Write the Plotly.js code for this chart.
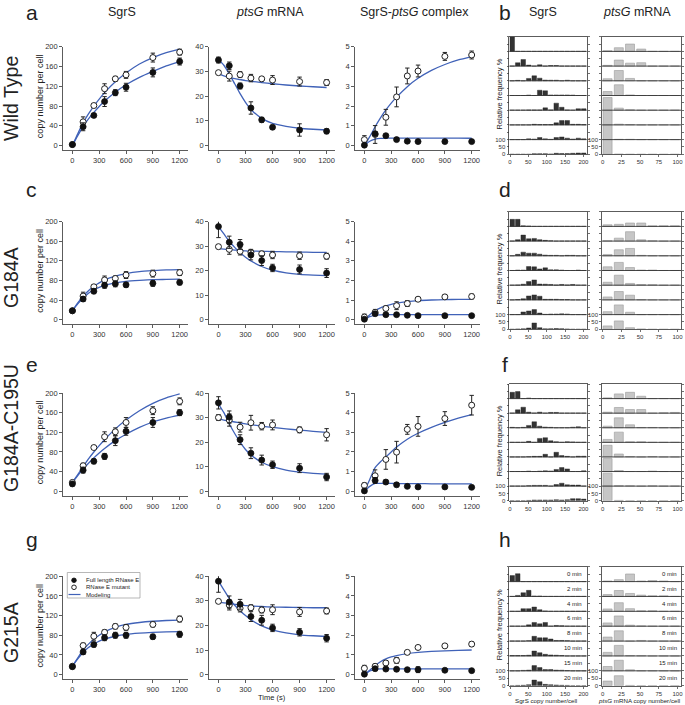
<!DOCTYPE html>
<html><head><meta charset="utf-8">
<script src="https://cdn.plot.ly/plotly-3.0.1.min.js"></script>
<style>body{margin:0;background:#fff}#chart{width:685px;height:705px}</style>
</head><body><div id="chart"></div>
<script>
const W = 685, H = 705;
const times = [0,120,240,360,480,600,900,1200];
const modelTimes = [0,60,120,180,240,300,360,480,600,750,900,1050,1200];
const xTicks = [0,300,600,900,1200];
const strains = ['Wild Type','G184A','G184A-C195U','G215A'];
const leftLetters = ['a','c','e','g'];
const rightLetters = ['b','d','f','h'];
const colTitles = ['SgrS','<i>ptsG</i> mRNA','SgrS-<i>ptsG</i> complex','SgrS','<i>ptsG</i> mRNA'];
const legendNames = ['Full length RNase E','RNase E mutant','Modeling'];
const histTimeLabels = ['0 min','2 min','4 min','6 min','8 min','10 min','15 min','20 min'];
const sgrsBins = [6,21,36,51,66,81,96,111,126,141,156,171,186,201];
const ptsgBins = [6.5,21.5,36.5,51.5,66.5,81.5,96.5];
const sgrsHistTicks = [0,50,100,150,200];
const ptsgHistTicks = [0,25,50,75,100];

// ---- Wild type ----
const WT_SgrS_full = [2,38,61,89,107,118,148,170];
const WT_SgrS_fullErr = [2,8,4,10,6,8,9,7];
const WT_SgrS_mut = [2,48,81,115,135,143,178,189];
const WT_SgrS_mutErr = [2,10,4,10,5,7,9,6];
const WT_SgrS_modelFull = [0,20,39,54,67,79,90,108,123,138,150,161,170];
const WT_SgrS_modelMut = [0,24,46,64,80,94,107,129,147,165,178,188,195];
const WT_ptsG_full = [34.6,32.3,24.1,15.2,10.4,7.4,6.3,5.8];
const WT_ptsG_fullErr = [1.2,1.5,1.2,2.5,1.0,0.8,2.5,1.0];
const WT_ptsG_mut = [29.5,28.1,28.7,27.3,27,26.5,25.9,25.5];
const WT_ptsG_mutErr = [0.8,2.0,1.2,1.5,0.8,1.8,1.8,1.2];
const WT_ptsG_modelFull = [34.8,32.5,29,25,21,17.5,14.6,11,9,7.8,7,6.6,6.3];
const WT_ptsG_modelMut = [29,28.2,27.6,27.1,26.7,26.3,26,25.5,25,24.5,24.1,23.8,23.5];
const WT_cplx_full = [0.02,0.6,0.5,0.3,0.22,0.2,0.2,0.2];
const WT_cplx_fullErr = [0.05,0.1,0.08,0.08,0.08,0.05,0.05,0.05];
const WT_cplx_mut = [0.3,0.56,1.43,2.46,3.52,3.77,4.51,4.58];
const WT_cplx_mutErr = [0.2,0.45,0.4,0.5,0.4,0.3,0.2,0.2];
const WT_cplx_modelFull = [0,0.22,0.32,0.36,0.37,0.38,0.38,0.38,0.38,0.38,0.38,0.38,0.37];
const WT_cplx_modelMut = [0,0.45,0.95,1.4,1.8,2.15,2.45,2.98,3.4,3.8,4.1,4.33,4.5];

// ---- G184A ----
const G184A_SgrS_full = [18,42,58,70,73,71,74,76];
const G184A_SgrS_fullErr = [3,5,5,6,6,5,6,5];
const G184A_SgrS_mut = [18,48,67,81,84,91,94,96];
const G184A_SgrS_mutErr = [3,8,4,8,5,7,7,6];
const G184A_SgrS_modelFull = [18,32,44,54,61,66,70,75,78,80,81.5,82,82.5];
const G184A_SgrS_modelMut = [18,34,48,59,68,75,81,89,94,98,100,101.5,102];
const G184A_ptsG_full = [38,31.6,30.7,26.4,24.1,21.1,20.5,19];
const G184A_ptsG_fullErr = [4.5,2.5,2,2,2,1.5,1.8,1.8];
const G184A_ptsG_mut = [29.8,28.7,27.9,27.5,26.9,26.4,26.1,25.9];
const G184A_ptsG_mutErr = [0.8,2,1.5,1.2,1,1.5,1.5,1.2];
const G184A_ptsG_modelFull = [38,35,32,29.5,27.3,25.5,24,21.7,20.2,19.1,18.5,18.2,18];
const G184A_ptsG_modelMut = [29,28.8,28.6,28.4,28.3,28.1,28,27.9,27.8,27.7,27.6,27.5,27.5];
const G184A_cplx_full = [0.02,0.3,0.25,0.25,0.22,0.2,0.2,0.2];
const G184A_cplx_fullErr = [0.05,0.1,0.08,0.08,0.07,0.07,0.05,0.05];
const G184A_cplx_mut = [0.13,0.37,0.57,0.71,0.82,1.04,1.16,1.18];
const G184A_cplx_mutErr = [0.15,0.15,0.12,0.2,0.15,0.1,0.1,0.12];
const G184A_cplx_modelFull = [0,0.15,0.22,0.24,0.25,0.25,0.25,0.25,0.25,0.25,0.25,0.25,0.25];
const G184A_cplx_modelMut = [0,0.25,0.45,0.6,0.7,0.78,0.84,0.92,0.97,1.0,1.02,1.03,1.03];

// ---- G184A-C195U ----
const G184AC195U_SgrS_full = [15,43,61,71,103,122,140,160];
const G184AC195U_SgrS_fullErr = [4,6,5,6,10,8,10,6];
const G184AC195U_SgrS_mut = [18,52,89,111,121,140,164,183];
const G184AC195U_SgrS_mutErr = [3,5,4,10,8,10,8,7];
const G184AC195U_SgrS_modelFull = [18,32,45,57,68,78,87,103,116,130,141,149,155];
const G184AC195U_SgrS_modelMut = [18,34,50,66,80,93,105,127,145,164,179,190,198];
const G184AC195U_ptsG_full = [36,30.2,21,15.5,12.7,10.8,9.4,5.8];
const G184AC195U_ptsG_fullErr = [2.5,2.5,2,2.2,2,1.5,1.8,1.5];
const G184AC195U_ptsG_mut = [30,29,26.1,27.9,26.5,27,25,23];
const G184AC195U_ptsG_mutErr = [1.2,2.5,2,3,1.5,2,1.2,2.5];
const G184AC195U_ptsG_modelFull = [35.5,32,27.5,23.5,20,17,14.8,11.8,10,8.6,7.8,7.3,7];
const G184AC195U_ptsG_modelMut = [29.5,29,28.6,28.2,27.8,27.4,27.1,26.5,26,25.4,24.9,24.4,24];
const G184AC195U_cplx_full = [0.02,0.55,0.47,0.33,0.25,0.22,0.22,0.2];
const G184AC195U_cplx_fullErr = [0.05,0.15,0.1,0.1,0.05,0.05,0.05,0.05];
const G184AC195U_cplx_mut = [0.3,0.79,1.62,1.99,3.15,3.3,3.7,4.38];
const G184AC195U_cplx_mutErr = [0.12,0.3,0.5,0.55,0.25,0.5,0.35,0.5];
const G184AC195U_cplx_modelFull = [0,0.25,0.4,0.4,0.4,0.4,0.39,0.39,0.39,0.38,0.38,0.38,0.38];
const G184AC195U_cplx_modelMut = [0,0.6,1.2,1.5,1.75,2.0,2.25,2.65,2.95,3.25,3.5,3.72,3.9];

// ---- G215A ----
const G215A_SgrS_full = [16,46,61,75,80,80,77,82];
const G215A_SgrS_fullErr = [4,5,5,6,6,6,5,6];
const G215A_SgrS_mut = [17,59,78,86,98,96,102,113];
const G215A_SgrS_mutErr = [3,5,8,5,5,6,5,6];
const G215A_SgrS_modelFull = [17,32,45,55,62,68,72,78,82,84.5,86,87,87.5];
const G215A_SgrS_modelMut = [17,34,50,62,72,80,87,96,102,106,108.5,110,111];
const G215A_ptsG_full = [38,29.5,28.6,23.6,22.1,19,17.2,14.8];
const G215A_ptsG_fullErr = [4.5,2.5,2,2,2,1.5,1.5,1.5];
const G215A_ptsG_mut = [29.8,28.3,27,27.2,26.3,26.4,25.5,25.9];
const G215A_ptsG_mutErr = [0.8,2,1.5,1.2,1.2,2,1.8,1.2];
const G215A_ptsG_modelFull = [38,34.5,31,28.2,26,24,22.3,19.8,18.2,17,16.2,15.8,15.5];
const G215A_ptsG_modelMut = [29.5,29.2,28.9,28.6,28.3,28.1,27.9,27.7,27.5,27.4,27.3,27.2,27.2];
const G215A_cplx_full = [0.02,0.3,0.28,0.27,0.25,0.25,0.22,0.2];
const G215A_cplx_fullErr = [0.05,0.1,0.08,0.1,0.05,0.15,0.05,0.05];
const G215A_cplx_mut = [0.32,0.42,0.59,0.72,1.13,1.38,1.46,1.55];
const G215A_cplx_mutErr = [0.15,0.12,0.1,0.15,0.1,0.1,0.08,0.12];
const G215A_cplx_modelFull = [0,0.18,0.27,0.29,0.29,0.29,0.29,0.29,0.29,0.29,0.29,0.29,0.29];
const G215A_cplx_modelMut = [0,0.22,0.45,0.65,0.8,0.9,0.97,1.07,1.13,1.18,1.21,1.23,1.25];

// ---- Histograms (relative frequency %, rows = time points) ----
const WT_SgrS_hist = [
 [100,0,0,0,0,0,0,0,0,0,0,0,0,0],
 [0,23,45,7,0,9,0,4,4,0,0,0,0,0],
 [0,3,0,16,34,18,5,4,4,0,4,0,0,0],
 [0,0,0,3,0,36,32,4,4,4,4,3,0,0],
 [0,0,0,2,2,2,16,2,48,20,2,0,10,10],
 [0,0,0,0,4,2,2,2,14,30,30,4,4,2],
 [0,0,0,5,4,14,5,2,14,18,10,4,10,5],
 [0,0,0,0,4,4,4,2,7,5,5,7,9,9]];
const WT_ptsG_hist = [
 [5,25,50,16,0,0,0],
 [5,41,20,23,0,0,0],
 [14,70,16,0,0,0,0],
 [27,73,4,0,0,0,0],
 [86,14,3,0,0,0,0],
 [98,5,2,0,0,0,0],
 [100,2,2,0,0,0,0],
 [100,1,0,0,0,0,0]];
const G184A_SgrS_hist = [
 [48,48,4,3,0,0,0,0,0,0,0,0,0,0],
 [0,10,41,16,18,10,5,2,0,0,0,0,0,0],
 [0,10,25,18,18,11,5,3,3,0,3,3,0,0],
 [0,3,3,27,25,11,18,5,5,3,0,0,3,0],
 [0,2,7,25,36,8,7,5,2,5,2,5,0,0],
 [0,2,8,27,34,25,4,4,4,2,2,0,0,0],
 [0,0,18,25,34,11,2,4,4,5,4,0,0,0],
 [0,2,3,9,43,11,3,4,5,4,2,0,0,0]];
const G184A_ptsG_hist = [
 [11,14,23,23,4,5,5],
 [2,20,64,9,2,0,0],
 [9,41,50,3,0,0,0],
 [25,55,20,3,3,0,0],
 [20,68,12,4,3,0,0],
 [20,57,32,2,0,0,0],
 [20,66,16,0,0,0,0],
 [23,57,11,2,0,0,0]];
const G184AC195U_SgrS_hist = [
 [43,48,0,4,0,0,0,0,0,0,0,0,0,0],
 [0,23,41,7,0,7,0,5,5,0,0,0,0,0],
 [3,0,3,16,41,11,5,3,0,0,0,4,7,0],
 [0,0,0,7,0,27,32,11,4,0,4,3,0,0],
 [0,0,0,2,4,4,18,0,32,9,4,0,5,5],
 [0,0,0,3,0,3,5,4,14,27,18,0,0,5],
 [0,0,0,3,5,5,5,0,11,20,9,7,7,0],
 [0,0,0,2,5,5,5,5,7,5,7,14,14,11]];
const G184AC195U_ptsG_hist = [
 [5,32,43,16,0,0,0],
 [7,39,25,25,0,3,5],
 [11,68,20,2,2,0,0],
 [20,70,4,4,0,0,0],
 [80,20,3,0,3,0,0],
 [89,7,0,0,3,0,0],
 [89,3,2,0,2,0,0],
 [100,2,0,0,0,0,0]];
const G215A_SgrS_hist = [
 [40,53,0,0,0,0,0,0,0,0,0,0,0,0],
 [0,7,25,41,3,3,0,0,0,0,0,0,0,0],
 [0,0,18,18,29,11,3,0,0,0,0,0,0,0],
 [0,0,0,9,25,16,25,0,5,3,0,0,0,0],
 [0,0,0,3,32,22,22,14,4,4,3,0,0,0],
 [3,3,3,5,33,22,11,7,5,3,0,0,0,0],
 [0,0,3,5,35,22,9,9,5,4,2,0,0,0],
 [0,2,3,7,38,27,9,7,5,3,2,0,0,0]];
const G215A_ptsG_hist = [
 [4,13,51,4,7,4,0],
 [13,40,20,9,5,4,0],
 [16,58,18,4,4,0,0],
 [22,69,7,2,0,0,0],
 [27,69,0,4,0,0,0],
 [24,71,3,2,0,0,0],
 [29,71,7,0,0,0,0],
 [31,67,2,0,0,0,0]];

// ---------- assembly ----------
const rowData = [
 {line:[[WT_SgrS_full,WT_SgrS_fullErr,WT_SgrS_mut,WT_SgrS_mutErr,WT_SgrS_modelFull,WT_SgrS_modelMut],
        [WT_ptsG_full,WT_ptsG_fullErr,WT_ptsG_mut,WT_ptsG_mutErr,WT_ptsG_modelFull,WT_ptsG_modelMut],
        [WT_cplx_full,WT_cplx_fullErr,WT_cplx_mut,WT_cplx_mutErr,WT_cplx_modelFull,WT_cplx_modelMut]],
  hist:[WT_SgrS_hist,WT_ptsG_hist]},
 {line:[[G184A_SgrS_full,G184A_SgrS_fullErr,G184A_SgrS_mut,G184A_SgrS_mutErr,G184A_SgrS_modelFull,G184A_SgrS_modelMut],
        [G184A_ptsG_full,G184A_ptsG_fullErr,G184A_ptsG_mut,G184A_ptsG_mutErr,G184A_ptsG_modelFull,G184A_ptsG_modelMut],
        [G184A_cplx_full,G184A_cplx_fullErr,G184A_cplx_mut,G184A_cplx_mutErr,G184A_cplx_modelFull,G184A_cplx_modelMut]],
  hist:[G184A_SgrS_hist,G184A_ptsG_hist]},
 {line:[[G184AC195U_SgrS_full,G184AC195U_SgrS_fullErr,G184AC195U_SgrS_mut,G184AC195U_SgrS_mutErr,G184AC195U_SgrS_modelFull,G184AC195U_SgrS_modelMut],
        [G184AC195U_ptsG_full,G184AC195U_ptsG_fullErr,G184AC195U_ptsG_mut,G184AC195U_ptsG_mutErr,G184AC195U_ptsG_modelFull,G184AC195U_ptsG_modelMut],
        [G184AC195U_cplx_full,G184AC195U_cplx_fullErr,G184AC195U_cplx_mut,G184AC195U_cplx_mutErr,G184AC195U_cplx_modelFull,G184AC195U_cplx_modelMut]],
  hist:[G184AC195U_SgrS_hist,G184AC195U_ptsG_hist]},
 {line:[[G215A_SgrS_full,G215A_SgrS_fullErr,G215A_SgrS_mut,G215A_SgrS_mutErr,G215A_SgrS_modelFull,G215A_SgrS_modelMut],
        [G215A_ptsG_full,G215A_ptsG_fullErr,G215A_ptsG_mut,G215A_ptsG_mutErr,G215A_ptsG_modelFull,G215A_ptsG_modelMut],
        [G215A_cplx_full,G215A_cplx_fullErr,G215A_cplx_mut,G215A_cplx_mutErr,G215A_cplx_modelFull,G215A_cplx_modelMut]],
  hist:[G215A_SgrS_hist,G215A_ptsG_hist]}
];

const FONT = 'Liberation Sans, Arial, sans-serif';
const INK = '#222';
const BLUE = '#4062b8';
const LX = [[63,188],[209,335],[355,480]];
const LY = [[46.7,150],[221.7,324],[393,495.7],[576.3,679]];
const HX = [[509.3,586.7],[602,681]];
const HY = [[36.7,154.3],[211.7,329.3],[384,500.7],[566.7,685.7]];
const yRanges = [[-9,200],[-1.8,40],[-0.225,5]];
const yDticks = [40,10,1];
const xRange = [-105,1293];
const px = v => v / W;
const py = v => 1 - v / H;

const traces = [];
const layout = {
  width: W, height: H,
  margin: {l:0, r:0, t:0, b:0},
  paper_bgcolor: '#fff', plot_bgcolor: 'rgba(0,0,0,0)',
  font: {family: FONT, color: INK},
  showlegend: false,
  annotations: [], shapes: []
};
function axName(i){ return i === 1 ? '' : String(i); }

rowData.forEach((rd, r) => {
  rd.line.forEach((p, c) => {
    const idx = r*3 + c + 1;
    const xa = 'x' + axName(idx), ya = 'y' + axName(idx);
    traces.push({type:'scatter', mode:'lines', x: modelTimes, y: p[4], xaxis: xa, yaxis: ya,
      line:{color: BLUE, width: 1.3, shape:'spline', smoothing: 0.6}, hoverinfo:'skip', name: legendNames[2]});
    traces.push({type:'scatter', mode:'lines', x: modelTimes, y: p[5], xaxis: xa, yaxis: ya,
      line:{color: BLUE, width: 1.3, shape:'spline', smoothing: 0.6}, hoverinfo:'skip', name: legendNames[2]});
    traces.push({type:'scatter', mode:'markers', x: times, y: p[2], xaxis: xa, yaxis: ya,
      error_y:{type:'data', array: p[3], color: INK, thickness: 1, width: 2.2},
      marker:{color:'#fff', size: 6, line:{color: INK, width: 1}}, name: legendNames[1]});
    traces.push({type:'scatter', mode:'markers', x: times, y: p[0], xaxis: xa, yaxis: ya,
      error_y:{type:'data', array: p[1], color: INK, thickness: 1, width: 2.2},
      marker:{color: '#111', size: 6, line:{color:'#111', width: 0.8}}, name: legendNames[0]});
    layout['xaxis' + axName(idx)] = {
      domain: [px(LX[c][0]), px(LX[c][1])], anchor: ya, range: xRange,
      tickvals: xTicks, ticks:'outside', ticklen: 3, tickwidth: 0.8, tickcolor: '#333',
      showline: true, linecolor: '#333', linewidth: 0.8, showgrid: false, zeroline: false,
      tickfont: {size: 7.5, family: FONT, color: '#333'}, fixedrange: true
    };
    layout['yaxis' + axName(idx)] = {
      domain: [py(LY[r][1]), py(LY[r][0])], anchor: xa, range: yRanges[c],
      tickmode:'linear', tick0: 0, dtick: yDticks[c], ticks:'outside', ticklen: 3, tickwidth: 0.8,
      tickcolor:'#333', showline: true, linecolor:'#333', linewidth: 0.8, showgrid: false,
      zeroline: false, tickfont: {size: 7.5, family: FONT, color: '#333'}, fixedrange: true
    };
  });

  rd.hist.forEach((hist, c) => {
    const idx = 13 + r*2 + c;
    const xa = 'x' + axName(idx), ya = 'y' + axName(idx);
    const bins = c === 0 ? sgrsBins : ptsgBins;
    const xs = [], ys = [], bases = [];
    hist.forEach((rowVals, k) => {
      rowVals.forEach((v, b) => { xs.push(bins[b]); ys.push(v); bases.push((7 - k) * 100); });
    });
    traces.push({type:'bar', x: xs, y: ys, base: bases, xaxis: xa, yaxis: ya,
      width: c === 0 ? 12.5 : 12, hoverinfo: 'skip',
      marker: c === 0 ? {color:'#333', line:{color:'#222', width:0.4}}
                      : {color:'#c6c6c6', line:{color:'#9a9a9a', width:0.6}}});
    const yt = [], ytt = [];
    for (let v = 0; v <= 800; v += 50) { yt.push(v); ytt.push(v <= 100 ? String(v) : ''); }
    layout['xaxis' + axName(idx)] = {
      domain: [px(HX[c][0]), px(HX[c][1])], anchor: ya,
      range: c === 0 ? [-2, 209] : [-1, 104.7],
      tickvals: c === 0 ? sgrsHistTicks : ptsgHistTicks, ticks:'outside', ticklen: 2, tickwidth: 0.7,
      tickcolor:'#333', showline: true, mirror: true, linecolor:'#333', linewidth: 0.8,
      showgrid: false, zeroline: false, tickfont:{size: 6, family: FONT, color:'#333'}, fixedrange: true
    };
    layout['yaxis' + axName(idx)] = {
      domain: [py(HY[r][1]), py(HY[r][0])], anchor: xa, range: [0, 800],
      tickvals: yt, ticktext: ytt, ticks:'outside', ticklen: 2, tickwidth: 0.7, tickcolor:'#333',
      showline: true, mirror: 'ticks', linecolor:'#333', linewidth: 0.8, showgrid: false,
      zeroline: false, tickfont:{size: 6, family: FONT, color:'#333'}, fixedrange: true
    };
    for (let k = 1; k < 8; k++) {
      layout.shapes.push({type:'line', xref: xa + ' domain', yref: ya, x0: 0, x1: 1,
        y0: k * 100, y1: k * 100, line:{color:'#333', width: 0.9}});
    }
    if (r === 3) {
      histTimeLabels.forEach((lab, k) => {
        layout.annotations.push({xref: xa + ' domain', yref: ya, x: 0.97, y: (7 - k) * 100 + 52,
          text: lab, showarrow: false, xanchor: 'right', yanchor: 'middle',
          font:{size: 6, family: FONT, color: INK}});
      });
    }
  });
});

function ann(x, y, text, size, opts) {
  layout.annotations.push(Object.assign({xref:'paper', yref:'paper', x: px(x), y: py(y), text: text,
    showarrow: false, xanchor:'center', yanchor:'middle', font:{size: size, family: FONT, color: INK}}, opts || {}));
}
// column titles
const titleX = [122, 270, 414, 543, 637];
colTitles.forEach((t, i) => ann(titleX[i], 12.5, t, 12.5));
// panel letters
const letterY = [12.5, 190, 364, 539];
leftLetters.forEach((l, i) => ann(32, letterY[i], l, 21));
rightLetters.forEach((l, i) => ann(505, letterY[i], l, 21));
// strain labels
const strainY = [99, 278, 428, 633];
strains.forEach((s, i) => ann(11, strainY[i], s, 19.5, {textangle: -90}));
// y titles
LY.forEach((ly, i) => {
  const zeroPx = ly[1] - (ly[1] - ly[0]) * 9 / 209;
  ann(40, (ly[0] + zeroPx) / 2, 'copy number per cell', 9, {textangle: -90});
});
HY.forEach(hy => ann(499, (hy[0] + hy[1]) / 2 - 2, 'Relative frequency %', 7.5, {textangle: -90}));
ann(272, 697, 'Time (s)', 7.5);
ann(546, 700, 'SgrS copy number/cell', 6.2);
ann(639, 700, '<i>ptsG</i> mRNA copy number/cell', 6.2);

// compact legend box inside panel g (SgrS)
layout.shapes.push({type:'rect', xref:'paper', yref:'paper', x0: px(67.3), x1: px(140), y0: py(598), y1: py(572.5),
  fillcolor:'#fff', line:{color:'#999', width:0.7}, layer:'above'});
layout.shapes.push({type:'circle', xref:'paper', yref:'paper', xsizemode:'pixel', ysizemode:'pixel',
  xanchor: px(74), yanchor: py(580.3), x0:-2.3, x1:2.3, y0:-2.3, y1:2.3,
  fillcolor:'#111', line:{color:'#111', width:0.8}});
layout.shapes.push({type:'circle', xref:'paper', yref:'paper', xsizemode:'pixel', ysizemode:'pixel',
  xanchor: px(74), yanchor: py(587.3), x0:-2.3, x1:2.3, y0:-2.3, y1:2.3,
  fillcolor:'#fff', line:{color:'#111', width:0.9}});
layout.shapes.push({type:'line', xref:'paper', yref:'paper', x0: px(68.5), x1: px(80.5),
  y0: py(594.5), y1: py(594.5), line:{color: BLUE, width: 1.2}});
[580.3, 587.3, 594.5].forEach((y, i) => ann(83.5, y, legendNames[i], 6, {xanchor:'left'}));

Plotly.newPlot('chart', traces, layout, {staticPlot: true, displayModeBar: false});
</script>
</body></html>
